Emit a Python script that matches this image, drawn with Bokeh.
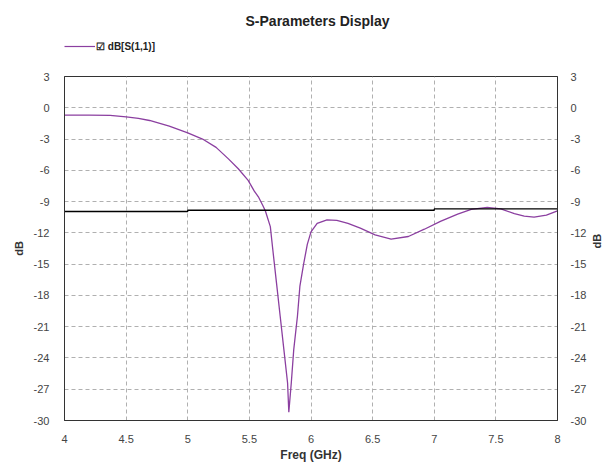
import math
from bokeh.plotting import figure
from bokeh.layouts import column
from bokeh.models import (LinearAxis, FixedTicker, Range1d, Legend, LegendItem,
                          CustomJSTickFormatter, Label)
from bokeh.embed import file_html
from bokeh.resources import INLINE

# ---- data ----
freq_ghz = [4.0, 4.2, 4.37, 4.5, 4.6, 4.69, 4.85, 5.0, 5.12, 5.23, 5.33, 5.41, 5.49,
            5.54, 5.576, 5.61, 5.63, 5.67, 5.69, 5.72, 5.75, 5.78, 5.81, 5.82,
            5.84, 5.86, 5.89, 5.91, 5.94, 5.97, 6.0, 6.05, 6.13, 6.21, 6.30,
            6.40, 6.52, 6.65, 6.79, 6.92, 7.05, 7.19, 7.30, 7.43, 7.54,
            7.65, 7.73, 7.81, 7.91, 8.0]
s11_db = [-0.7, -0.7, -0.72, -0.88, -1.02, -1.22, -1.75, -2.4, -3.0, -3.8, -4.9, -5.85, -6.97,
          -8.0, -8.6, -9.4, -9.9, -11.4, -13.6, -16.8, -20.0, -23.2, -26.4, -29.2,
          -26.4, -23.2, -20.0, -17.1, -15.0, -13.1, -11.9, -11.1, -10.75, -10.8, -11.1,
          -11.55, -12.2, -12.6, -12.35, -11.65, -10.9, -10.2, -9.75, -9.55, -9.7,
          -10.15, -10.4, -10.5, -10.3, -9.9]
limit_f = [4.0, 5.0, 5.0, 7.0, 7.0, 8.0]
limit_db = [-9.95, -9.95, -9.83, -9.83, -9.7, -9.7]
x_ticks = [4, 4.5, 5, 5.5, 6, 6.5, 7, 7.5, 8]
y_ticks = [3, 0, -3, -6, -9, -12, -15, -18, -21, -24, -27, -30]
title_text = "S-Parameters Display"
series_name = "dB[S(1,1)]"

FONT = "Liberation Sans"
CURVE = "#8b3fa0"
HEADER_H = 68
FRAME_LEFT = 64

# ---- header (title + legend); its frame is aligned with the main frame ----
h = figure(width=612, height=HEADER_H, output_backend="svg", toolbar_location=None,
           x_axis_location=None, y_axis_location=None,
           x_range=Range1d(4, 8), y_range=Range1d(100, 200),
           min_border_left=0, min_border_right=0, min_border_top=0, min_border_bottom=0)
h.outline_line_color = None
h.xgrid.visible = False
h.ygrid.visible = False
h.title.visible = False
# same series, kept out of the header's visible range: only its legend sample shows
legend_line = h.line(freq_ghz, s11_db, line_color=CURVE, line_width=1.2)
h.add_layout(Label(x=317 - FRAME_LEFT, y=HEADER_H - 20, x_units="screen", y_units="screen",
                   text=title_text, text_font=FONT, text_font_style="bold",
                   text_font_size="14px", text_align="center", text_baseline="middle",
                   text_color="#222222"))
legend = Legend(items=[LegendItem(label="\u2611 " + series_name, renderers=[legend_line])],
                location=(0, HEADER_H - 52), orientation="horizontal",
                glyph_width=31, glyph_height=12, label_standoff=1, label_height=12,
                padding=0, margin=0, border_line_color=None, background_fill_alpha=0,
                label_text_font=FONT, label_text_font_style="bold",
                label_text_font_size="10px", label_text_color="#222222")
h.add_layout(legend, "center")

# ---- main plot ----
p = figure(width=612, height=467 - HEADER_H, output_backend="svg", toolbar_location=None,
           x_range=Range1d(4, 8), y_range=Range1d(-30, 3),
           min_border_left=FRAME_LEFT, min_border_right=47, min_border_top=76 - HEADER_H,
           min_border_bottom=47)
p.title.visible = False
p.background_fill_color = "white"
p.border_fill_color = "white"
p.outline_line_color = "#333333"
p.outline_line_width = 1

p.line(freq_ghz, s11_db, line_color=CURVE, line_width=1.3)
p.line(limit_f, limit_db, line_color="black", line_width=1.3)

fmt = CustomJSTickFormatter(code="return String(tick);")

for ax in [p.xaxis[0], p.yaxis[0]]:
    ax.major_label_text_font = FONT
    ax.major_label_text_font_size = "11px"
    ax.major_label_text_color = "#444444"
    ax.major_tick_line_color = None
    ax.minor_tick_line_color = None
    ax.axis_line_color = "#333333"
    ax.axis_label_text_font = FONT
    ax.axis_label_text_font_style = "bold"
    ax.axis_label_text_color = "#333333"
    ax.formatter = fmt

p.xaxis[0].ticker = FixedTicker(ticks=x_ticks)
p.yaxis[0].ticker = FixedTicker(ticks=y_ticks)
p.xaxis[0].axis_label = "Freq (GHz)"
p.xaxis[0].axis_label_text_font_size = "12px"
p.xaxis[0].axis_label_standoff = 2
p.xaxis[0].major_label_standoff = 8
p.yaxis[0].axis_label = "dB"
p.yaxis[0].axis_label_text_font_size = "11px"
p.yaxis[0].major_label_standoff = 9
p.yaxis[0].axis_label_standoff = 6

ry = LinearAxis(ticker=FixedTicker(ticks=y_ticks), formatter=fmt, axis_label="dB")
ry.major_label_text_font = FONT
ry.major_label_text_font_size = "11px"
ry.major_label_text_color = "#444444"
ry.major_tick_line_color = None
ry.minor_tick_line_color = None
ry.axis_line_color = "#333333"
ry.axis_label_text_font = FONT
ry.axis_label_text_font_style = "bold"
ry.axis_label_text_font_size = "11px"
ry.axis_label_text_color = "#333333"
ry.axis_label_orientation = math.pi / 2
ry.major_label_standoff = 7
ry.axis_label_standoff = 8
p.add_layout(ry, "right")

p.xgrid.ticker = FixedTicker(ticks=x_ticks)
p.ygrid.ticker = FixedTicker(ticks=y_ticks)
for g in [p.xgrid[0], p.ygrid[0]]:
    g.grid_line_color = "#b0b0b0"
    g.grid_line_dash = "4 3"
    g.grid_line_width = 1

layout = column(h, p, spacing=0)
open("out.html", "w").write(file_html(layout, INLINE))
